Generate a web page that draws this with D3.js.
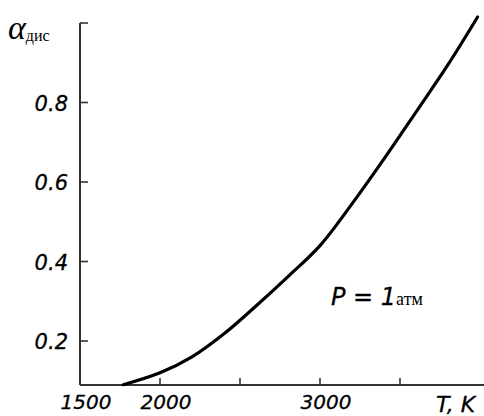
<!DOCTYPE html>
<html><head><meta charset="utf-8">
<script src="https://cdn.jsdelivr.net/npm/d3@7"></script>
<style>body{margin:0;background:#fff}</style>
</head><body>
<svg id="c" width="484" height="416"></svg>
<script>
const temps = [1770, 2000, 2200, 2400, 2600, 2800, 3000, 3200, 3400, 3600, 3800, 3985];
const alphas = [0.09, 0.12, 0.16, 0.218, 0.288, 0.362, 0.44, 0.545, 0.658, 0.776, 0.895, 1.015];
const yTicks = [0.2, 0.4, 0.6, 0.8, 1.0];
const yTickLabels = ["0.2", "0.4", "0.6", "0.8", ""];
const xTicks = [2000, 2500, 3000, 3500];
const xTickLabels = [["1500", 1500], ["2000", 2000], ["3000", 3000]];

const svg = d3.select("#c");
const x = d3.scaleLinear().domain([1500, 4000]).range([80, 480]);
const y = d3.scaleLinear().domain([0.2, 1.0]).range([341, 23]);
const yBottom = 385;

svg.append("line").attr("x1", 80).attr("x2", 80).attr("y1", y(1.0)).attr("y2", yBottom)
  .attr("stroke", "#333").attr("stroke-width", 2);
svg.append("line").attr("x1", 80).attr("x2", 484).attr("y1", yBottom).attr("y2", yBottom)
  .attr("stroke", "#333").attr("stroke-width", 2);

svg.selectAll(".yt").data(yTicks).enter().append("line")
  .attr("x1", 80).attr("x2", 88).attr("y1", d => y(d)).attr("y2", d => y(d))
  .attr("stroke", "#333").attr("stroke-width", 1.6);
svg.selectAll(".yl").data(yTicks).enter().append("text")
  .attr("x", 68).attr("y", d => y(d) + 8).attr("text-anchor", "end")
  .attr("font-family", "DejaVu Sans").attr("font-style", "italic").attr("font-size", 21)
  .attr("stroke", "#000").attr("stroke-width", 0.3)
  .text((d, i) => yTickLabels[i]);

svg.selectAll(".xt").data(xTicks).enter().append("line")
  .attr("x1", d => x(d)).attr("x2", d => x(d)).attr("y1", yBottom).attr("y2", yBottom - 7)
  .attr("stroke", "#333").attr("stroke-width", 1.6);
svg.selectAll(".xl").data(xTickLabels).enter().append("text")
  .attr("x", d => x(d[1]) + 6).attr("y", 409).attr("text-anchor", "middle")
  .attr("font-family", "DejaVu Sans").attr("font-style", "italic").attr("font-size", 20)
  .attr("stroke", "#000").attr("stroke-width", 0.3)
  .text(d => d[0]);

const pts = temps.map((t, i) => [t, alphas[i]]);
svg.append("path").datum(pts)
  .attr("d", d3.line().x(d => x(d[0])).y(d => y(d[1])).curve(d3.curveCatmullRom.alpha(0.5)))
  .attr("fill", "none").attr("stroke", "#000").attr("stroke-width", 3.2).attr("stroke-linecap", "round");

const ya = svg.append("text").attr("x", 8).attr("y", 39)
  .attr("font-family", "Liberation Serif").attr("font-style", "italic");
ya.append("tspan").attr("font-size", 34).text("α");
ya.append("tspan").attr("font-size", 16).attr("font-style", "normal").attr("dy", 2).text("дис");

svg.append("text").attr("x", 436).attr("y", 412)
  .attr("font-family", "DejaVu Sans").attr("font-style", "italic").attr("font-size", 22)
  .attr("stroke", "#000").attr("stroke-width", 0.3)
  .text("T, K");

const pl = svg.append("text").attr("x", 331).attr("y", 305);
pl.append("tspan").attr("font-family", "DejaVu Sans").attr("font-style", "italic").attr("font-size", 24)
  .attr("stroke", "#000").attr("stroke-width", 0.3).text("P = 1");
pl.append("tspan").attr("font-family", "Liberation Serif").attr("font-size", 18).text("атм");
</script>
</body></html>
